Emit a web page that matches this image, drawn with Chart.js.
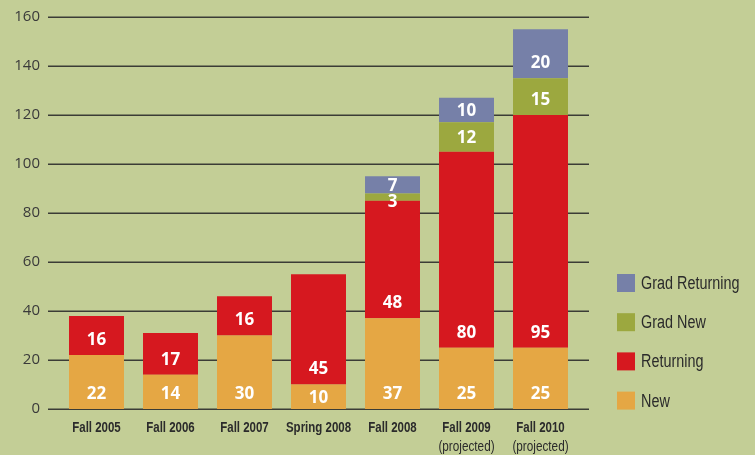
<!DOCTYPE html>
<html>
<head>
<meta charset="utf-8">
<script src="https://cdn.jsdelivr.net/npm/chart.js@4.4.1/dist/chart.umd.min.js"></script>
<style>
    html, body { margin: 0; padding: 0; background: #c3ce96; }
    #enrollChart { display: block; background: #c3ce96; }
</style>
</head>
<body>
<canvas id="enrollChart" width="755" height="455"></canvas>
<script>
// Chart data
const categories = ['Fall 2005', 'Fall 2006', 'Fall 2007', 'Spring 2008', 'Fall 2008', 'Fall 2009', 'Fall 2010'];
const subLabels = ['', '', '', '', '', '(projected)', '(projected)'];
const newStudents = [22, 14, 30, 10, 37, 25, 25];
const returningStudents = [16, 17, 16, 45, 48, 80, 95];
const gradNew = [null, null, null, null, 3, 12, 15];
const gradReturning = [null, null, null, null, 7, 10, 20];
const yTicks = [0, 20, 40, 60, 80, 100, 120, 140, 160];

// UI constants
const SANS = "'Liberation Sans', Arial, sans-serif";
const SQUEEZE = 0.82; // fake a condensed face, none is installed
const COLORS = {
    newStudents: '#e5a744',
    returning: '#d6181f',
    gradNew: '#9ca83f',
    gradReturning: '#7680a8',
    grid: '#3b3c36',
    text: '#2b2b2b',
    label: '#ffffff'
};
const GRID_OVERHANG = 11.5;
const LEGEND = { x: 617, top: 283, step: 39.2, box: 18 };

// Draw text squeezed horizontally around its anchor
function narrowText(ctx, text, x, y, squeeze) {
    ctx.save();
    ctx.translate(x, y);
    ctx.scale(squeeze, 1);
    ctx.fillText(text, 0, 0);
    ctx.restore();
}

// Horizontal grid lines, a bit wider than the plot area
const gridPlugin = {
    id: 'wideGrid',
    beforeDatasetsDraw(chart) {
        const { ctx, chartArea, scales } = chart;
        ctx.save();
        ctx.strokeStyle = COLORS.grid;
        ctx.lineWidth = 1.5;
        yTicks.forEach(v => {
            const y = Math.round(scales.y.getPixelForValue(v)) + 0.25;
            ctx.beginPath();
            ctx.moveTo(chartArea.left - GRID_OVERHANG, y);
            ctx.lineTo(chartArea.right + GRID_OVERHANG, y);
            ctx.stroke();
        });
        ctx.restore();
    }
};

// White numbers inside the segments, near the bottom of each one
const valuePlugin = {
    id: 'segmentValues',
    afterDatasetsDraw(chart) {
        const { ctx } = chart;
        ctx.save();
        ctx.fillStyle = COLORS.label;
        ctx.font = "bold 17px 'Open Sans', sans-serif";
        ctx.textAlign = 'center';
        ctx.textBaseline = 'middle';
        chart.data.datasets.forEach((ds, i) => {
            chart.getDatasetMeta(i).data.forEach((bar, j) => {
                const v = ds.data[j];
                if (!v) return;
                const h = bar.base - bar.y;
                // very thin slices get their number sitting on the lower edge
                const lift = h < 10 ? 0 : Math.min(16, h / 2);
                ctx.fillText(String(v), bar.x, bar.base - lift + 1);
            });
        });
        ctx.restore();
    }
};

// Category names (condensed), their second line, and the legend
const extrasPlugin = {
    id: 'extras',
    afterDraw(chart) {
        const { ctx, scales } = chart;
        ctx.save();
        ctx.fillStyle = COLORS.text;
        ctx.textAlign = 'center';
        ctx.textBaseline = 'middle';
        categories.forEach((c, i) => {
            const x = scales.x.getPixelForValue(i);
            ctx.font = 'bold 14px ' + SANS;
            narrowText(ctx, c, x, 428, SQUEEZE);
            if (subLabels[i]) {
                ctx.font = '14px ' + SANS;
                narrowText(ctx, subLabels[i], x, 447, 0.84);
            }
        });

        // legend, top entry is the last dataset
        const items = chart.data.datasets.slice().reverse();
        ctx.textAlign = 'left';
        ctx.font = '18px ' + SANS;
        items.forEach((ds, k) => {
            const cy = LEGEND.top + k * LEGEND.step;
            ctx.fillStyle = ds.backgroundColor;
            ctx.fillRect(LEGEND.x, cy - LEGEND.box / 2, LEGEND.box, LEGEND.box);
            ctx.fillStyle = COLORS.text;
            narrowText(ctx, ds.label, LEGEND.x + LEGEND.box + 6, cy + 1, 0.8);
        });
        ctx.restore();
    }
};

function makeSet(label, data, color) {
    return {
        label: label,
        data: data,
        backgroundColor: color,
        borderWidth: 0,
        barPercentage: 0.743,
        categoryPercentage: 1.0
    };
}

// Initialize chart
document.addEventListener('DOMContentLoaded', () => {
    const ctx = document.getElementById('enrollChart').getContext('2d');

    new Chart(ctx, {
        type: 'bar',
        data: {
            labels: categories,
            datasets: [
                makeSet('New', newStudents, COLORS.newStudents),
                makeSet('Returning', returningStudents, COLORS.returning),
                makeSet('Grad New', gradNew, COLORS.gradNew),
                makeSet('Grad Returning', gradReturning, COLORS.gradReturning)
            ]
        },
        options: {
            responsive: false,
            devicePixelRatio: 1,
            animation: false,
            layout: {
                padding: { top: 17, right: 177.5, bottom: 0, left: 0 }
            },
            plugins: {
                legend: { display: false },
                tooltip: { enabled: false }
            },
            scales: {
                x: {
                    stacked: true,
                    grid: { display: false, drawTicks: false },
                    border: { display: false },
                    ticks: { display: false },
                    afterFit(scale) {
                        scale.height = 46;
                        scale.paddingLeft = scale.paddingRight = 0;
                    }
                },
                y: {
                    stacked: true,
                    min: 0,
                    max: 160,
                    grid: { display: false, drawTicks: false },
                    border: { display: false },
                    ticks: {
                        stepSize: 20,
                        padding: 19.5,
                        color: '#3a3a3a',
                        font: { family: "'Open Sans', sans-serif", size: 15 }
                    },
                    afterFit(scale) {
                        scale.width = 59.5;
                        scale.paddingTop = scale.paddingBottom = 0;
                    }
                }
            }
        },
        plugins: [gridPlugin, valuePlugin, extrasPlugin]
    });
});
</script>
</body>
</html>
